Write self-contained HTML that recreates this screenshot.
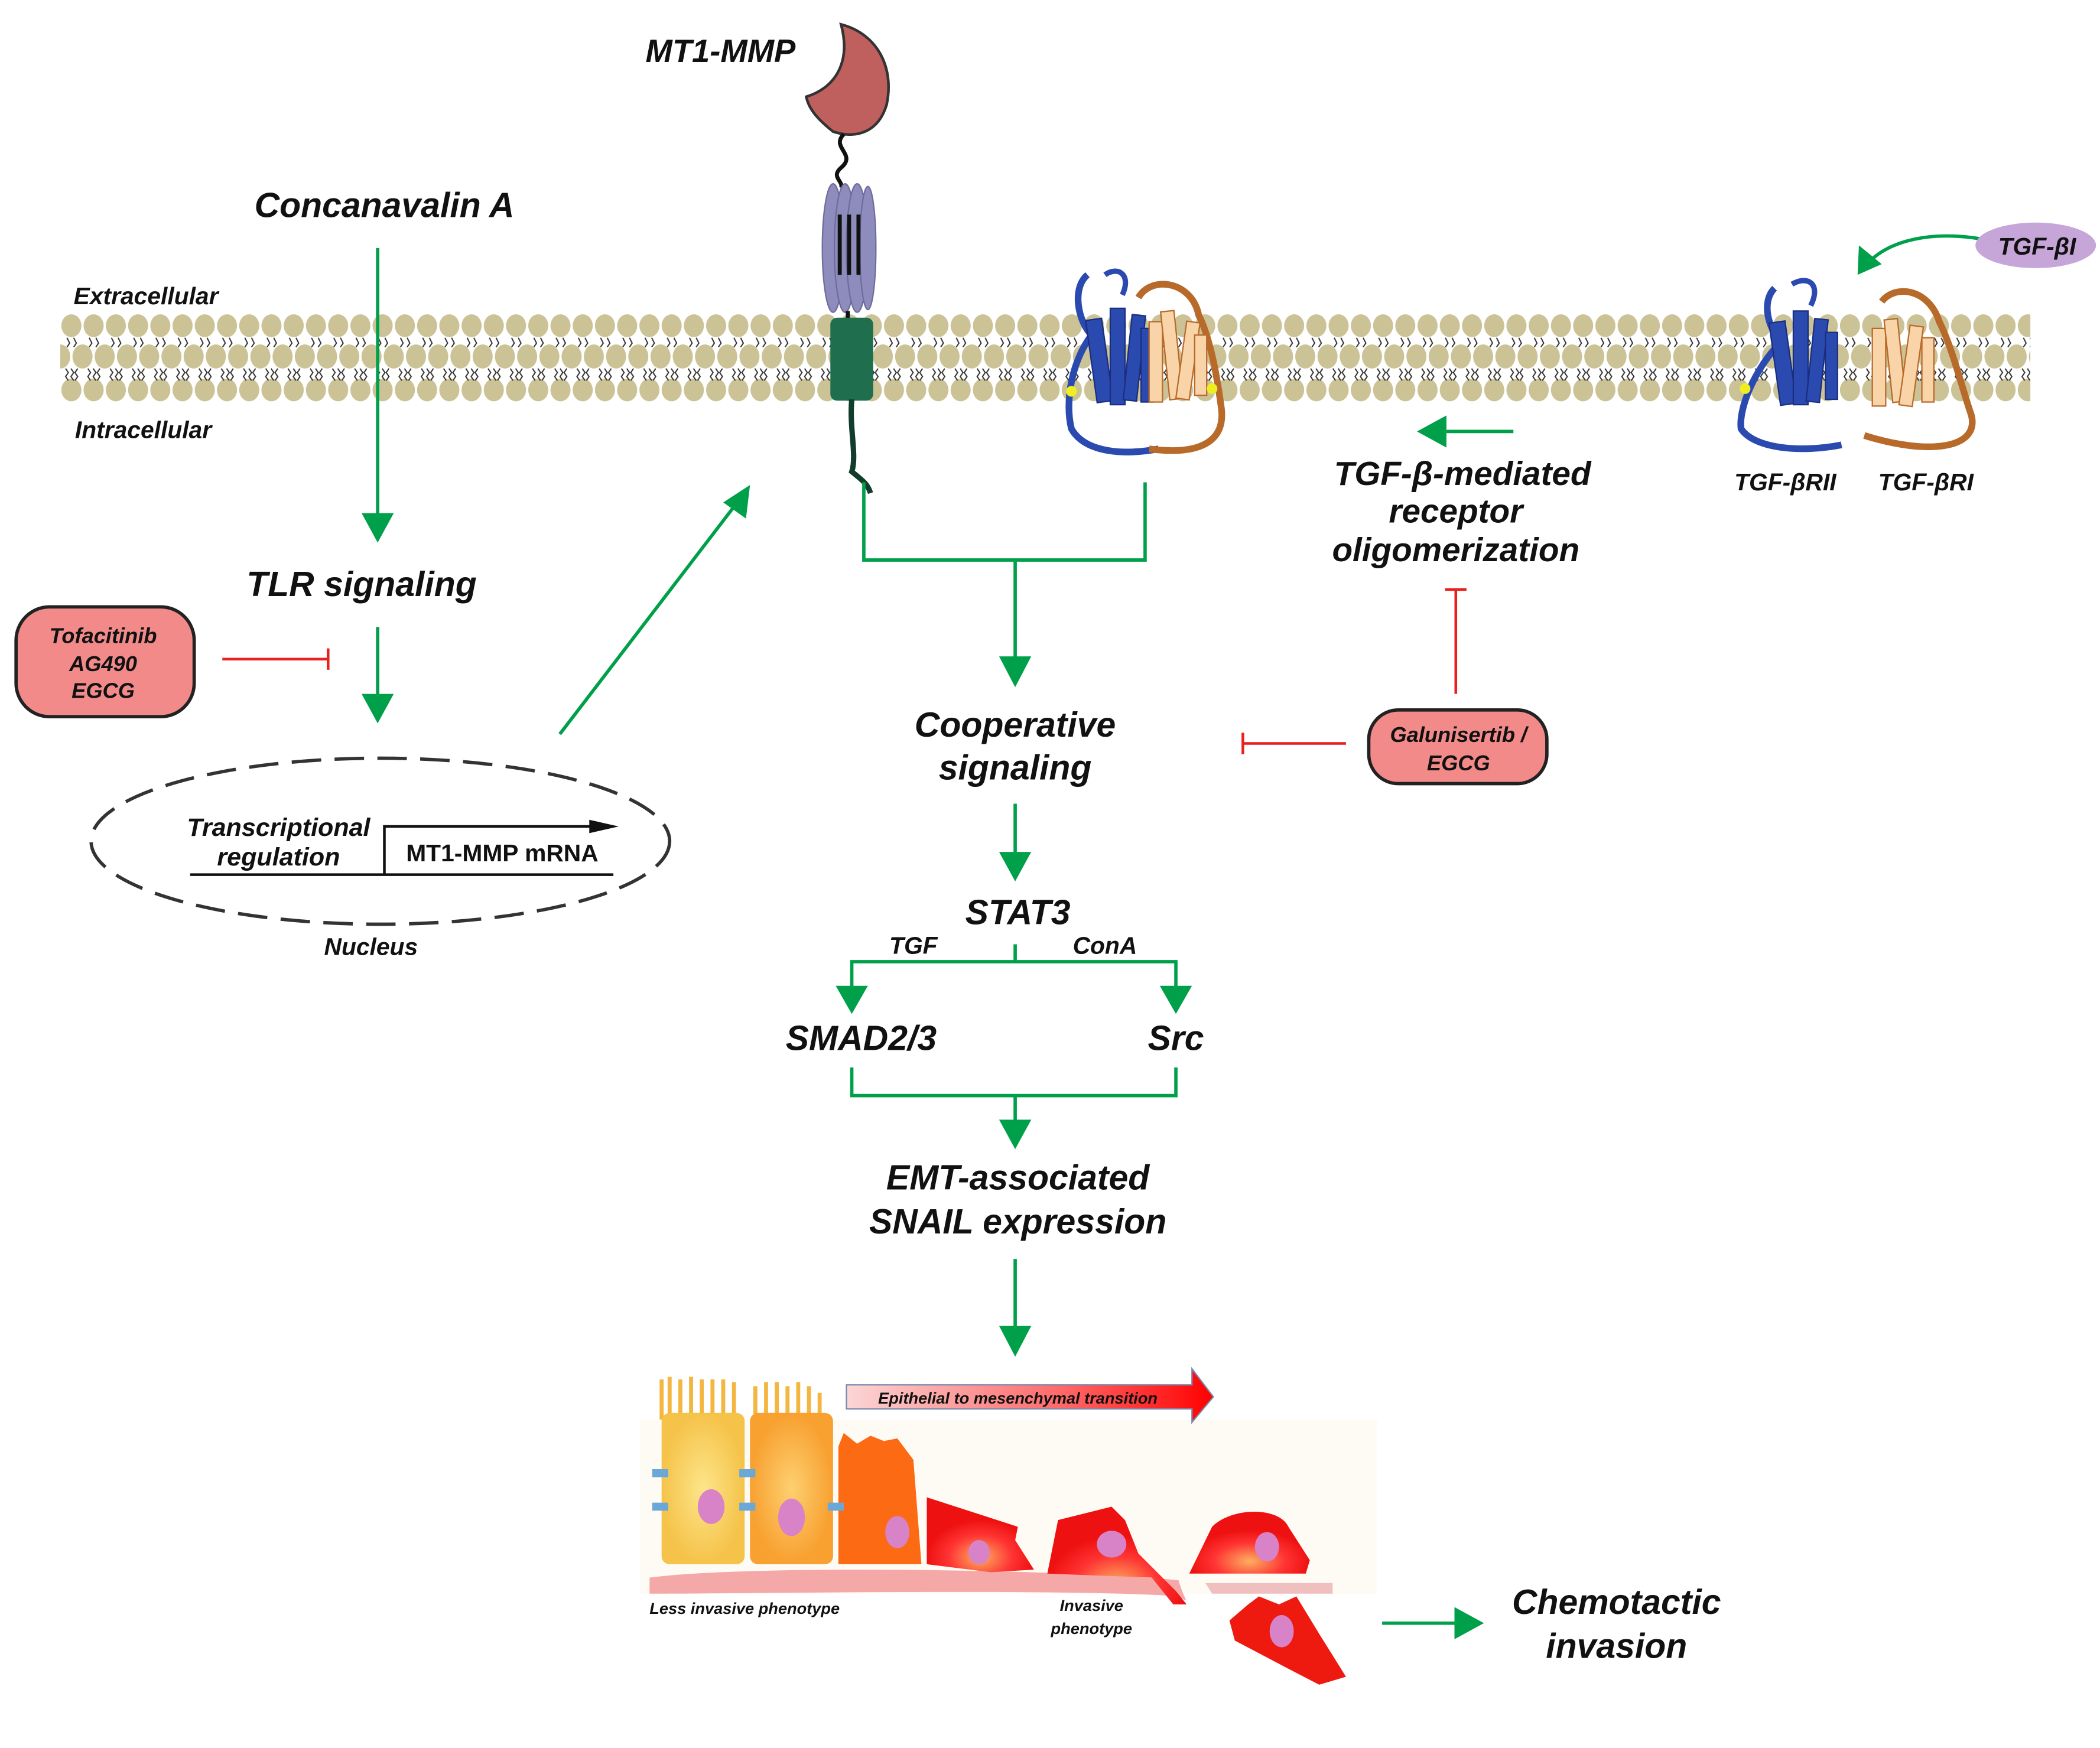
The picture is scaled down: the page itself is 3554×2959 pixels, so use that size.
<!DOCTYPE html>
<html><head><meta charset="utf-8"><style>
html,body{margin:0;padding:0;background:#fff}
svg{display:block}
text{font-family:"Liberation Sans",sans-serif;font-style:italic;font-weight:bold;fill:#111}
</style></head><body>
<svg width="3554" height="2959" viewBox="0 0 1568 1305" xmlns="http://www.w3.org/2000/svg">
<defs>
<pattern id="heads" x="45" y="0" width="16.6" height="1305" patternUnits="userSpaceOnUse">
<ellipse cx="8.3" cy="243" rx="7.5" ry="8.5" fill="#cbc296"/>
<ellipse cx="0" cy="266" rx="7.5" ry="9" fill="#cbc296"/>
<ellipse cx="16.6" cy="266" rx="7.5" ry="9" fill="#cbc296"/>
<ellipse cx="8.3" cy="291" rx="7.5" ry="8.5" fill="#cbc296"/>
<path d="M5 252 l2 4 l-2 3 M10 252 l2 4 l-2 3 M4 275 l2 3 l-2 3 l2 3 M8 275 l2 3 l-2 3 l2 3 M13 275 l-2 3 l2 3 l-2 3" stroke="#333" stroke-width="0.9" fill="none"/>
</pattern>
<linearGradient id="emt" x1="0" x2="1"><stop offset="0" stop-color="#fbd6d6"/><stop offset="0.6" stop-color="#f66"/><stop offset="1" stop-color="#f00"/></linearGradient>
<radialGradient id="cellY"><stop offset="0" stop-color="#fde58a"/><stop offset="1" stop-color="#f5c34a"/></radialGradient>
<radialGradient id="cellO"><stop offset="0" stop-color="#fdd070"/><stop offset="1" stop-color="#f8a030"/></radialGradient>
<radialGradient id="cellR" cy="0.8"><stop offset="0" stop-color="#fbb060"/><stop offset="0.6" stop-color="#f33"/><stop offset="1" stop-color="#e11"/></radialGradient>
</defs>

<rect x="45" y="232" width="1471" height="70" fill="url(#heads)"/>

<path d="M628 18 C655 25 668 50 662 78 C656 98 640 104 622 98 C612 90 604 82 602 72 C622 66 636 48 628 18 Z" fill="#c0605e" stroke="#333" stroke-width="2"/>
<path d="M630 100 C620 110 640 115 628 125 C620 132 630 135 628 140" stroke="#111" stroke-width="3" fill="none"/>
<g fill="#8e8cbc" stroke="#6e6c9c">
<ellipse cx="622" cy="185" rx="8" ry="48"/><ellipse cx="631" cy="185" rx="8" ry="48"/><ellipse cx="640" cy="185" rx="8" ry="48"/><ellipse cx="648" cy="185" rx="6" ry="46"/>
</g>
<path d="M627 160 v45 M634 160 v45 M641 160 v45" stroke="#111" stroke-width="3"/>
<path d="M633 232 v8" stroke="#111" stroke-width="3"/>
<rect x="620" y="237" width="32" height="62" rx="5" fill="#1f6e4e"/>
<path d="M636 298 C634 320 640 340 636 352 C646 360 648 362 650 368" stroke="#123d2c" stroke-width="4" fill="none"/>
<text x="538" y="46" font-size="24" text-anchor="middle">MT1-MMP</text>

<text x="287" y="162" font-size="26" text-anchor="middle">Concanavalin A</text>
<text x="55" y="227" font-size="18" font-weight="normal">Extracellular</text>
<text x="56" y="327" font-size="18" font-weight="normal">Intracellular</text>

<g stroke="#00a04a" stroke-width="2.5" fill="none">
<path d="M282 185 V385"/>
<path d="M282 468 V520"/>
<path d="M418 548 L552 373"/>
<path d="M645 360 V418 H855 V360 M758 418 V492"/>
<path d="M758 600 V638"/>
<path d="M758 705 V718 M636 740 V718 H878 V740"/>
<path d="M636 797 V818 H878 V797 M758 818 V838"/>
<path d="M758 940 V992"/>
<path d="M1032 1212 H1088"/>
<path d="M1130 322 H1080"/>
<path d="M1478 178 C1440 172 1410 180 1395 196"/>
</g>
<g fill="#00a04a">
<path d="M270 383 L294 383 L282 405 Z"/>
<path d="M270 518 L294 518 L282 540 Z"/>
<path d="M540 375 L560 362 L557 387 Z"/>
<path d="M746 490 L770 490 L758 513 Z"/>
<path d="M746 636 L770 636 L758 658 Z"/>
<path d="M624 736 L648 736 L636 757 Z"/>
<path d="M866 736 L890 736 L878 757 Z"/>
<path d="M746 836 L770 836 L758 858 Z"/>
<path d="M746 990 L770 990 L758 1013 Z"/>
<path d="M1086 1200 L1086 1224 L1108 1212 Z"/>
<path d="M1080 310 L1080 334 L1058 322 Z"/>
<path d="M1387 205 L1388 183 L1405 197 Z"/>
</g>

<text x="270" y="445" font-size="26" text-anchor="middle">TLR signaling</text>

<rect x="12" y="453" width="133" height="82" rx="25" fill="#f28a8a" stroke="#222" stroke-width="2.5"/>
<text x="77" y="480" font-size="16" text-anchor="middle">Tofacitinib</text>
<text x="77" y="501" font-size="16" text-anchor="middle">AG490</text>
<text x="77" y="521" font-size="16" text-anchor="middle">EGCG</text>
<g stroke="#e82020" stroke-width="2" fill="none">
<path d="M166 492 H245 M245 484 V500"/>
<path d="M1087 518 V440 M1079 440 H1095"/>
<path d="M1005 555 H928 M928 547 V563"/>
</g>

<ellipse cx="284" cy="628" rx="216" ry="62" fill="none" stroke="#333" stroke-width="2.5" stroke-dasharray="22 10"/>
<text x="208" y="624" font-size="19" font-weight="normal" text-anchor="middle">Transcriptional</text>
<text x="208" y="646" font-size="19" font-weight="normal" text-anchor="middle">regulation</text>
<path d="M142 653 H458 M287 653 V617 H450" stroke="#111" stroke-width="2" fill="none"/>
<path d="M440 612 L462 617 L440 622 Z" fill="#111"/>
<text x="375" y="643" font-size="18" font-weight="normal" text-anchor="middle" style="font-style:normal">MT1-MMP  mRNA</text>
<text x="277" y="713" font-size="18" font-weight="normal" text-anchor="middle">Nucleus</text>

<!-- receptor complex middle -->
<g>
<path d="M812 205 C800 215 805 240 815 250 C800 270 795 300 800 320 C810 338 840 340 865 335" stroke="#2b4ab0" stroke-width="5" fill="none"/>
<path d="M825 205 C835 198 845 205 838 220" stroke="#2b4ab0" stroke-width="4" fill="none"/>
<g fill="#2b4ab0" stroke="#1a2e80">
<rect x="815" y="238" width="12" height="62" transform="rotate(-8 821 270)"/>
<rect x="829" y="230" width="11" height="72"/>
<rect x="842" y="235" width="10" height="64" transform="rotate(6 847 267)"/>
<rect x="852" y="245" width="9" height="55"/>
</g>
<path d="M850 222 C860 205 890 210 895 235 C905 255 910 290 912 305 C915 330 895 340 858 335" stroke="#b86a2a" stroke-width="5" fill="none"/>
<g fill="#f8d4a8" stroke="#b86a2a">
<rect x="858" y="240" width="10" height="60"/>
<rect x="870" y="232" width="10" height="66" transform="rotate(-6 875 265)"/>
<rect x="882" y="240" width="10" height="58" transform="rotate(8 887 269)"/>
<rect x="892" y="250" width="9" height="45"/>
</g>
<circle cx="800" cy="292" r="4" fill="#ee2"/><circle cx="905" cy="290" r="4" fill="#ee2"/>
</g>

<!-- receptor right -->
<g>
<path d="M1325 215 C1315 225 1320 245 1330 255 C1310 275 1298 305 1300 320 C1310 335 1345 338 1375 332" stroke="#2b4ab0" stroke-width="5" fill="none"/>
<path d="M1338 212 C1350 205 1360 212 1352 228" stroke="#2b4ab0" stroke-width="4" fill="none"/>
<g fill="#2b4ab0" stroke="#1a2e80">
<rect x="1325" y="240" width="12" height="62" transform="rotate(-8 1331 270)"/>
<rect x="1339" y="232" width="11" height="70"/>
<rect x="1352" y="238" width="10" height="62" transform="rotate(6 1357 267)"/>
<rect x="1363" y="248" width="9" height="50"/>
</g>
<path d="M1405 225 C1415 212 1440 215 1448 240 C1458 260 1465 290 1472 310 C1478 335 1440 340 1392 325" stroke="#b86a2a" stroke-width="5" fill="none"/>
<g fill="#f8d4a8" stroke="#b86a2a">
<rect x="1398" y="245" width="10" height="58"/>
<rect x="1410" y="238" width="10" height="62" transform="rotate(-6 1415 269)"/>
<rect x="1422" y="243" width="10" height="60" transform="rotate(8 1427 273)"/>
<rect x="1435" y="252" width="9" height="48"/>
</g>
<circle cx="1303" cy="290" r="4" fill="#ee2"/>
</g>
<text x="1333" y="366" font-size="18" text-anchor="middle">TGF-βRII</text>
<text x="1438" y="366" font-size="18" text-anchor="middle">TGF-βRI</text>
<ellipse cx="1520" cy="183" rx="45" ry="17" fill="#c6a6d8"/>
<text x="1521" y="190" font-size="18" font-weight="normal" text-anchor="middle" fill="#444">TGF-βI</text>

<text x="1092" y="362" font-size="25" text-anchor="middle">TGF-β-mediated</text>
<text x="1087" y="390" font-size="25" text-anchor="middle">receptor</text>
<text x="1087" y="419" font-size="25" text-anchor="middle">oligomerization</text>

<rect x="1022" y="530" width="133" height="55" rx="22" fill="#f28a8a" stroke="#222" stroke-width="2.5"/>
<text x="1089" y="554" font-size="16" text-anchor="middle">Galunisertib /</text>
<text x="1089" y="575" font-size="16" text-anchor="middle">EGCG</text>

<text x="758" y="550" font-size="26" text-anchor="middle">Cooperative</text>
<text x="758" y="582" font-size="26" text-anchor="middle">signaling</text>
<text x="760" y="690" font-size="26" text-anchor="middle">STAT3</text>
<text x="682" y="712" font-size="18" font-weight="normal" text-anchor="middle">TGF</text>
<text x="825" y="712" font-size="18" font-weight="normal" text-anchor="middle">ConA</text>
<text x="643" y="784" font-size="26" text-anchor="middle">SMAD2/3</text>
<text x="878" y="784" font-size="26" text-anchor="middle">Src</text>
<text x="760" y="888" font-size="26" text-anchor="middle">EMT-associated</text>
<text x="760" y="921" font-size="26" text-anchor="middle">SNAIL expression</text>

<!-- EMT picture -->
<rect x="478" y="1060" width="550" height="130" fill="#fdf9ee" opacity="0.6"/>
<path d="M632 1034 H890 V1022 L906 1043 L890 1062 V1052 H632 Z" fill="url(#emt)" stroke="#7a8ab0" stroke-width="1"/>
<text x="760" y="1048" font-size="12" font-weight="normal" text-anchor="middle">Epithelial to mesenchymal transition</text>
<path d="M485 1178 C560 1168 800 1172 880 1180 C884 1195 890 1198 880 1192 C800 1186 560 1190 485 1190 Z" fill="#f5a8a8"/>
<path d="M900 1182 H995 V1190 H905 Z" fill="#f0c0c0"/>
<path d="M494 1060 V1030 M500 1060 V1028 M508 1060 V1030 M516 1060 V1028 M524 1060 V1030 M532 1060 V1030 M540 1060 V1030 M548 1060 V1032 M564 1060 V1035 M572 1060 V1032 M580 1060 V1032 M588 1060 V1035 M596 1060 V1032 M604 1060 V1035 M612 1060 V1040" stroke="#f3b640" stroke-width="3"/>
<rect x="494" y="1055" width="62" height="113" rx="6" fill="url(#cellY)"/>
<rect x="560" y="1055" width="62" height="113" rx="6" fill="url(#cellO)"/>
<path d="M626 1080 L630 1070 L640 1078 L650 1072 L660 1076 L670 1074 L682 1090 L688 1168 H626 Z" fill="#fd6a14"/>
<path d="M692 1118 L760 1140 L758 1150 L772 1172 L740 1174 L692 1168 Z" fill="url(#cellR)"/>
<path d="M790 1135 L830 1125 L840 1135 L850 1160 L878 1188 L886 1198 L876 1198 L860 1178 L782 1175 Z" fill="url(#cellR)"/>
<path d="M905 1140 C920 1125 955 1125 962 1140 L978 1165 L975 1175 H888 Z" fill="url(#cellR)"/>
<path d="M932 1198 L940 1192 L955 1198 L968 1192 L985 1220 L1005 1252 L985 1258 L960 1245 L922 1225 L918 1210 Z" fill="#ee1a10"/>
<g fill="#d883c8">
<ellipse cx="531" cy="1125" rx="10" ry="13"/><ellipse cx="591" cy="1133" rx="10" ry="14"/><ellipse cx="670" cy="1144" rx="9" ry="12"/><ellipse cx="731" cy="1159" rx="8" ry="9"/><ellipse cx="830" cy="1153" rx="11" ry="10"/><ellipse cx="946" cy="1155" rx="9" ry="11"/><ellipse cx="957" cy="1218" rx="9" ry="12"/>
</g>
<g fill="#6aa8d8"><rect x="487" y="1097" width="12" height="6"/><rect x="487" y="1122" width="12" height="6"/><rect x="552" y="1097" width="12" height="6"/><rect x="552" y="1122" width="12" height="6"/><rect x="618" y="1122" width="12" height="6"/></g>
<text x="485" y="1205" font-size="12" font-weight="normal">Less invasive phenotype</text>
<text x="815" y="1203" font-size="12" font-weight="normal" text-anchor="middle">Invasive</text>
<text x="815" y="1220" font-size="12" font-weight="normal" text-anchor="middle">phenotype</text>

<text x="1207" y="1205" font-size="26" text-anchor="middle">Chemotactic</text>
<text x="1207" y="1238" font-size="26" text-anchor="middle">invasion</text>
</svg>
</body></html>
